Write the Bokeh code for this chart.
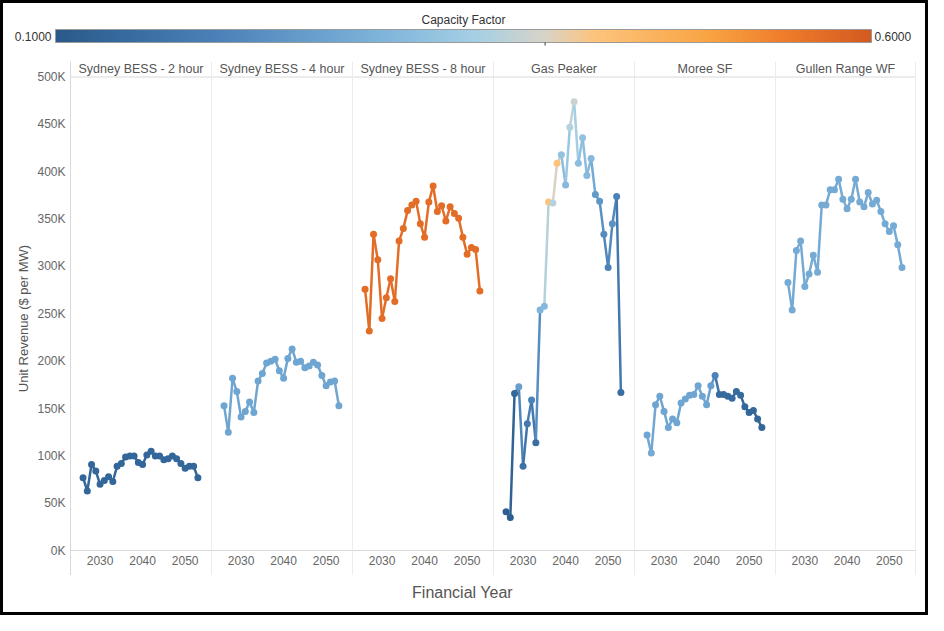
import numpy as np
from bokeh.plotting import figure
from bokeh.models import Range1d, FixedTicker, LinearColorMapper, Span, ColumnDataSource
from bokeh.layouts import row, column
from bokeh.embed import file_html
from bokeh.resources import INLINE
from bokeh.core.properties import value
from bokeh.transform import transform

# ---------------- data ----------------
years = [2026, 2027, 2028, 2029, 2030, 2031, 2032, 2033, 2034, 2035,
         2036, 2037, 2038, 2039, 2040, 2041, 2042, 2043, 2044, 2045,
         2046, 2047, 2048, 2049, 2050, 2051, 2052, 2053]

panel_names = ["Sydney BESS - 2 hour", "Sydney BESS - 4 hour", "Sydney BESS - 8 hour",
               "Gas Peaker", "Moree SF", "Gullen Range WF"]

bess2_rev = [77000, 63000, 91000, 84000, 70000, 74000, 78000, 73000, 89000, 92000,
             99000, 100000, 100000, 93000, 91000, 101000, 105000, 100000, 100000, 96000,
             97000, 100000, 97000, 92000, 87000, 89000, 89000, 77000]
bess2_cf = [0.13, 0.13, 0.13, 0.13, 0.13, 0.13, 0.13, 0.13, 0.13, 0.13,
            0.13, 0.13, 0.13, 0.13, 0.13, 0.13, 0.13, 0.13, 0.13, 0.13,
            0.13, 0.13, 0.13, 0.13, 0.13, 0.13, 0.13, 0.13]

bess4_rev = [153000, 125000, 182000, 168000, 141000, 147000, 157000, 146000, 179000, 187000,
             198000, 200000, 202000, 190000, 182000, 203000, 213000, 199000, 200000, 193000,
             195000, 199000, 196000, 185000, 174000, 178000, 179000, 153000]
bess4_cf = [0.27, 0.27, 0.27, 0.27, 0.27, 0.27, 0.27, 0.27, 0.27, 0.27,
            0.27, 0.27, 0.27, 0.27, 0.27, 0.27, 0.27, 0.27, 0.27, 0.27,
            0.27, 0.27, 0.27, 0.27, 0.27, 0.27, 0.27, 0.27]

bess8_rev = [276000, 232000, 334000, 307000, 245000, 267000, 287000, 263000, 327000, 340000,
             359000, 365000, 369000, 345000, 331000, 368000, 385000, 358000, 364000, 348000,
             363000, 356000, 351000, 331000, 313000, 320000, 318000, 274000]
bess8_cf = [0.57, 0.57, 0.57, 0.57, 0.57, 0.57, 0.57, 0.57, 0.57, 0.57,
            0.57, 0.57, 0.57, 0.57, 0.57, 0.57, 0.57, 0.57, 0.57, 0.57,
            0.57, 0.57, 0.57, 0.57, 0.57, 0.57, 0.57, 0.57]

gas_rev = [41000, 35000, 166000, 173000, 89000, 134000, 159000, 114000, 254000, 258000,
           368000, 367000, 409000, 418000, 386000, 447000, 474000, 409000, 436000, 396000,
           414000, 376000, 369000, 334000, 299000, 345000, 374000, 167000]
gas_cf = [0.11, 0.11, 0.13, 0.26, 0.16, 0.18, 0.20, 0.15, 0.30, 0.31,
          0.435, 0.37, 0.435, 0.33, 0.31, 0.37, 0.39, 0.32, 0.33, 0.31,
          0.31, 0.25, 0.24, 0.22, 0.20, 0.23, 0.20, 0.15]

moree_rev = [122000, 103000, 154000, 163000, 147000, 130000, 139000, 135000, 156000, 160000,
             164000, 165000, 174000, 163000, 154000, 174000, 185000, 165000, 165000, 163000,
             161000, 168000, 164000, 152000, 146000, 148000, 139000, 130000]
moree_cf = [0.27, 0.28, 0.27, 0.27, 0.27, 0.27, 0.27, 0.27, 0.27, 0.27,
            0.27, 0.27, 0.27, 0.27, 0.27, 0.26, 0.20, 0.14, 0.14, 0.14,
            0.14, 0.14, 0.14, 0.13, 0.13, 0.13, 0.13, 0.13]

gullen_rev = [283000, 254000, 317000, 327000, 279000, 292000, 312000, 294000, 365000, 365000,
              381000, 381000, 392000, 371000, 361000, 371000, 392000, 368000, 363000, 378000,
              366000, 370000, 358000, 345000, 337000, 343000, 323000, 299000]
gullen_cf = [0.28, 0.28, 0.28, 0.28, 0.28, 0.28, 0.28, 0.28, 0.28, 0.28,
             0.28, 0.28, 0.28, 0.28, 0.28, 0.28, 0.28, 0.28, 0.28, 0.28,
             0.28, 0.28, 0.28, 0.28, 0.28, 0.28, 0.28, 0.28]

panel_rev = [bess2_rev, bess4_rev, bess8_rev, gas_rev, moree_rev, gullen_rev]
panel_cf = [bess2_cf, bess4_cf, bess8_cf, gas_cf, moree_cf, gullen_cf]

y_ticks = [0, 50000, 100000, 150000, 200000, 250000, 300000, 350000, 400000, 450000, 500000]
y_tick_labels = ["0K", "50K", "100K", "150K", "200K", "250K", "300K", "350K", "400K", "450K", "500K"]
x_ticks = [2030, 2040, 2050]

cf_low, cf_high = 0.1, 0.6
cf_low_label, cf_high_label = "0.1000", "0.6000"

# ---------------- colour scale (orange-blue diverging) ----------------
stop_pos = [0.10, 0.20, 0.30, 0.36, 0.40, 0.43, 0.50, 0.55, 0.60]
stop_col = ["#2a5a8b", "#4a82b9", "#7fb4db", "#a7d0e4", "#d8d4c8",
            "#fdc47d", "#f9a443", "#ee7a2a", "#d45a20"]

def _rgb(h):
    return [int(h[i:i + 2], 16) for i in (1, 3, 5)]

_t = np.linspace(cf_low, cf_high, 256)
_rgbs = np.array([_rgb(c) for c in stop_col], dtype=float)
palette = []
for tv in _t:
    r = np.interp(tv, stop_pos, _rgbs[:, 0])
    g = np.interp(tv, stop_pos, _rgbs[:, 1])
    b = np.interp(tv, stop_pos, _rgbs[:, 2])
    palette.append("#%02x%02x%02x" % (int(round(r)), int(round(g)), int(round(b))))

mapper = LinearColorMapper(palette=palette, low=cf_low, high=cf_high)

FONT = "Liberation Sans"
GRID = "#d9d9d9"
INNER_W = 922

# ---------------- legend ----------------
LEG_H = 55
leg = figure(width=INNER_W, height=LEG_H, x_range=Range1d(0, INNER_W), y_range=Range1d(LEG_H, 0),
             output_backend="svg", toolbar_location=None, min_border=0,
             x_axis_location=None, y_axis_location=None)
leg.outline_line_color = None
leg.grid.visible = False
grad = np.array([np.linspace(cf_low, cf_high, 512)])
leg.image(image=[grad], x=52, y=26, dw=816, dh=13, color_mapper=mapper)
leg.rect(x=460, y=32.5, width=816, height=13, fill_color=None, line_color="#9a9a9a", line_width=1)
leg.segment(x0=[541.6], y0=[39], x1=[541.6], y1=[42], line_color="#333333", line_width=1)
leg.text(x=[460], y=[16], text=["Capacity Factor"], text_align="center", text_baseline="middle",
         text_font=value(FONT), text_font_size="12px", text_color="#333333")
leg.text(x=[48], y=[33], text=[cf_low_label], text_align="right", text_baseline="middle",
         text_font=value(FONT), text_font_size="12px", text_color="#333333")
leg.text(x=[871], y=[33], text=[cf_high_label], text_align="left", text_baseline="middle",
         text_font=value(FONT), text_font_size="12px", text_color="#333333")

# ---------------- panels ----------------
X0, X1 = 2023.05, 2056.2
Y0, Y1 = -26200, 516400
frame_w = [141, 141, 141, 141, 141, 140]
LEFT_B, RIGHT_B, TOP_B, FRAME_H = 67, 10, 3, 514
figs = []
for i, name in enumerate(panel_names):
    left_b = LEFT_B if i == 0 else 0
    right_b = RIGHT_B if i == len(panel_names) - 1 else 0
    p = figure(width=frame_w[i] + left_b + right_b, height=TOP_B + FRAME_H,
               x_range=Range1d(X0, X1), y_range=Range1d(Y0, Y1),
               output_backend="svg", toolbar_location=None,
               min_border_left=left_b, min_border_right=right_b,
               min_border_top=TOP_B, min_border_bottom=0,
               y_axis_location="left" if i == 0 else None)
    p.outline_line_color = None
    p.grid.visible = False
    p.background_fill_color = "white"

    # x axis at the zero line
    xa = p.xaxis[0]
    xa.fixed_location = 0
    xa.ticker = FixedTicker(ticks=x_ticks)
    xa.major_tick_out = 0
    xa.major_tick_in = 0
    xa.minor_tick_out = 0
    xa.minor_tick_in = 0
    xa.axis_line_color = GRID
    xa.major_label_text_font = FONT
    xa.major_label_text_font_size = "12px"
    xa.major_label_text_color = "#666666"
    xa.major_label_standoff = 5

    if i == 0:
        ya = p.yaxis[0]
        ya.ticker = FixedTicker(ticks=y_ticks)
        ya.major_label_overrides = {t: l for t, l in zip(y_ticks, y_tick_labels)}
        ya.major_tick_out = 0
        ya.major_tick_in = 0
        ya.minor_tick_out = 0
        ya.minor_tick_in = 0
        ya.axis_line_color = GRID
        ya.major_label_text_font = FONT
        ya.major_label_text_font_size = "12px"
        ya.major_label_text_color = "#666666"
        ya.major_label_standoff = 5
        ya.axis_label = "Unit Revenue ($ per MW)"
        ya.axis_label_text_font = FONT
        ya.axis_label_text_font_size = "13px"
        ya.axis_label_text_font_style = "normal"
        ya.axis_label_text_color = "#555555"
        ya.axis_label_standoff = 3
    else:
        p.add_layout(Span(location=X0, dimension="height", line_color=GRID, line_width=1))
    if i == len(panel_names) - 1:
        p.add_layout(Span(location=X1, dimension="height", line_color=GRID, line_width=1))
    p.add_layout(Span(location=y_ticks[-1], dimension="width", line_color=GRID, line_width=1))

    # header
    p.text(x=[(X0 + X1) / 2], y=[(y_ticks[-1] + Y1) / 2], text=[name],
           text_align="center", text_baseline="middle",
           text_font=value(FONT), text_font_size="12.5px", text_color="#555555")

    rev = panel_rev[i]
    cf = panel_cf[i]
    cf_mid = [(a + b) / 2 for a, b in zip(cf[:-1], cf[1:])]
    seg = ColumnDataSource(dict(x0=years[:-1], x1=years[1:], y0=rev[:-1], y1=rev[1:], cf=cf_mid))
    p.segment("x0", "y0", "x1", "y1", source=seg, line_width=2.5,
              line_color=transform("cf", mapper), line_cap="round")
    pts = ColumnDataSource(dict(x=years, y=rev, cf=cf))
    p.scatter("x", "y", source=pts, size=7, fill_color=transform("cf", mapper), line_color=None)
    figs.append(p)

# ---------------- x axis title ----------------
BOT_H = 609 - LEG_H - (TOP_B + FRAME_H)
bot = figure(width=INNER_W, height=BOT_H, x_range=Range1d(0, INNER_W), y_range=Range1d(BOT_H, 0),
             output_backend="svg", toolbar_location=None, min_border=0,
             x_axis_location=None, y_axis_location=None)
bot.outline_line_color = None
bot.grid.visible = False
bot.text(x=[459], y=[17], text=["Financial Year"], text_align="center", text_baseline="middle",
         text_font=value(FONT), text_font_size="16px", text_color="#555555")

layout = column(leg, row(*figs), bot, styles={"border": "3px solid black"})
open("out.html", "w").write(file_html(layout, INLINE))
